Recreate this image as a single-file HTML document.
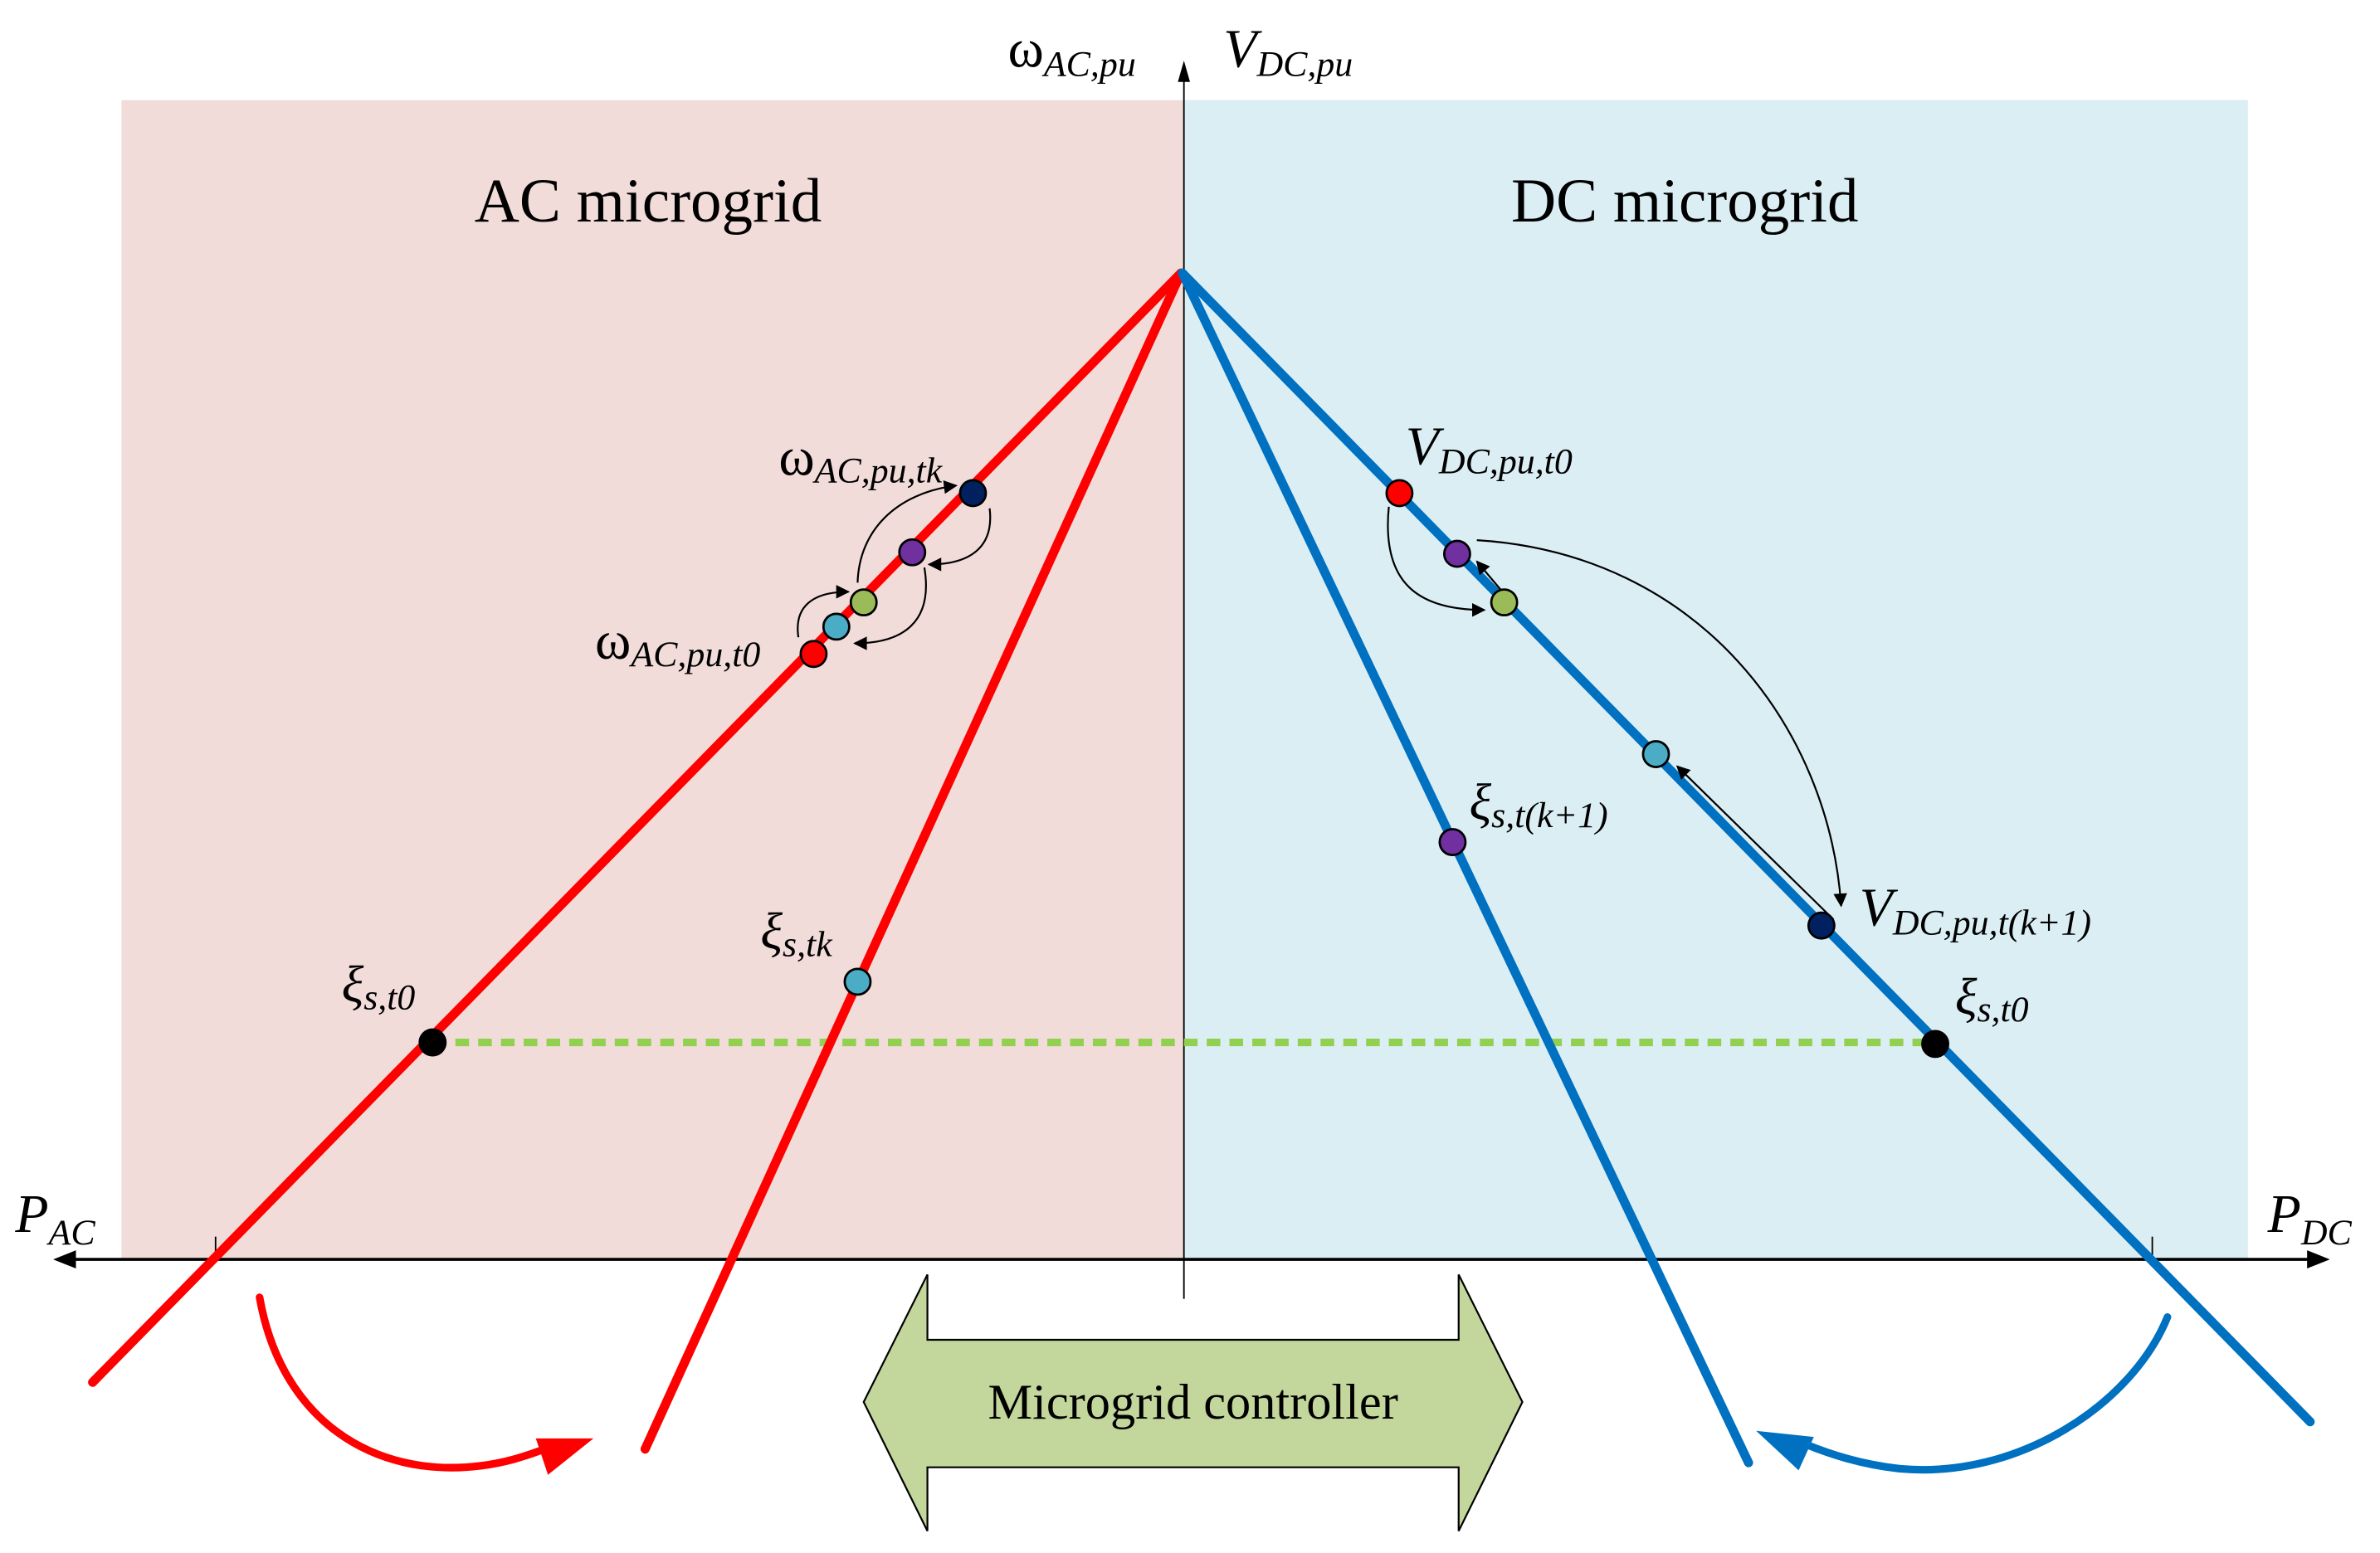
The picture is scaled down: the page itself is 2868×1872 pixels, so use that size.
<!DOCTYPE html>
<html><head><meta charset="utf-8"><style>
html,body{margin:0;padding:0;background:#fff}
svg{display:block}
text{font-family:"Liberation Serif",serif;fill:#000}
.i{font-style:italic}
</style></head><body>
<svg width="2868" height="1872" viewBox="0 0 1568 1023.5" xmlns="http://www.w3.org/2000/svg">
<defs>
<marker id="ah" viewBox="0 0 10 10" refX="9" refY="5" markerWidth="10" markerHeight="9" orient="auto" markerUnits="userSpaceOnUse">
<path d="M0,0 L10,5 L0,10 z" fill="#000"/></marker>
</defs>
<rect x="80" y="66" width="700" height="764" fill="#f1dcd9"/>
<rect x="780" y="66" width="701" height="764" fill="#dbeef4"/>
<line x1="780" y1="52" x2="780" y2="856" stroke="#000" stroke-width="1"/>
<path d="M780,40 L776,54 L784,54 z" fill="#000"/>
<line x1="46" y1="830" x2="1524" y2="830" stroke="#000" stroke-width="2"/>
<path d="M35,830 L50,824 L50,836 z" fill="#000"/>
<path d="M1535,830 L1520,824 L1520,836 z" fill="#000"/>
<line x1="142" y1="815" x2="142" y2="830" stroke="#000" stroke-width="1"/>
<line x1="1418" y1="815" x2="1418" y2="830" stroke="#000" stroke-width="1"/>
<line x1="285" y1="687" x2="1275" y2="687" stroke="#92d050" stroke-width="5" stroke-dasharray="9,6"/>
<g stroke-width="6" stroke-linecap="round">
<line x1="778" y1="180" x2="61" y2="911" stroke="#ff0000"/>
<line x1="778" y1="180" x2="425" y2="955" stroke="#ff0000"/>
<line x1="779" y1="180" x2="1522" y2="937" stroke="#0070c0"/>
<line x1="779" y1="180" x2="1152" y2="964" stroke="#0070c0"/>
</g>
<path d="M171,855 C185,935 245,975 317,966 C333,964 345,960 356,956" fill="none" stroke="#ff0000" stroke-width="5" stroke-linecap="round"/>
<path d="M353,948 L391,948 L361,972 z" fill="#ff0000"/>
<path d="M1428,868 C1405,925 1330,975 1252,968 C1225,965 1205,958 1190,952" fill="none" stroke="#0070c0" stroke-width="5" stroke-linecap="round"/>
<path d="M1157,943 L1195,947 L1185,969 z" fill="#0070c0"/>
<path d="M569,924 L611,840 L611,883 L961,883 L961,840 L1003,924 L961,1009 L961,967 L611,967 L611,1009 z" fill="#c3d69b" stroke="#000" stroke-width="1.2"/>
<text x="786" y="935" font-size="33" text-anchor="middle">Microgrid controller</text>
<g fill="none" stroke="#000" stroke-width="1.2">
<path d="M526,420 C523,400 535,390 559,390" marker-end="url(#ah)"/>
<path d="M565,384 C566,350 590,325 630,320" marker-end="url(#ah)"/>
<path d="M652,335 C655,360 640,372 612,372" marker-end="url(#ah)"/>
<path d="M609,374 C615,410 595,424 563,424" marker-end="url(#ah)"/>
<path d="M915,334 C910,385 935,402 978,402" marker-end="url(#ah)"/>
<path d="M989,389 L973,370" marker-end="url(#ah)"/>
<path d="M973,356 C1120,365 1205,480 1213,597" marker-end="url(#ah)"/>
<path d="M1208,606 L1105,505" marker-end="url(#ah)"/>
</g>
<g stroke="#000" stroke-width="1.5">
<circle cx="285" cy="687" r="8.5" fill="#000"/>
<circle cx="1275" cy="688" r="8.5" fill="#000"/>
<circle cx="536" cy="431" r="8.5" fill="#ff0000"/>
<circle cx="551" cy="413" r="8.5" fill="#4bacc6"/>
<circle cx="569" cy="397" r="8.5" fill="#9bbb59"/>
<circle cx="601" cy="364" r="8.5" fill="#7030a0"/>
<circle cx="641" cy="325" r="8.5" fill="#002060"/>
<circle cx="565" cy="647" r="8.5" fill="#4bacc6"/>
<circle cx="922" cy="325" r="8.5" fill="#ff0000"/>
<circle cx="960" cy="365" r="8.5" fill="#7030a0"/>
<circle cx="991" cy="397" r="8.5" fill="#9bbb59"/>
<circle cx="1091" cy="497" r="8.5" fill="#4bacc6"/>
<circle cx="1200" cy="610" r="8.5" fill="#002060"/>
<circle cx="957" cy="555" r="8.5" fill="#7030a0"/>
</g>
<text x="427" y="146" font-size="41" text-anchor="middle">AC microgrid</text>
<text x="1110" y="146" font-size="41" text-anchor="middle">DC microgrid</text>
<text x="664" y="44" font-size="36">ω<tspan class="i" font-size="24" dy="6">AC,pu</tspan></text>
<text x="806" y="44" font-size="36" class="i">V<tspan font-size="24" dy="6">DC,pu</tspan></text>
<text x="10" y="812" font-size="36" class="i">P<tspan font-size="24" dy="8">AC</tspan></text>
<text x="1494" y="812" font-size="36" class="i">P<tspan font-size="24" dy="8">DC</tspan></text>
<text x="513" y="313" font-size="36">ω<tspan class="i" font-size="24" dy="5">AC,pu,tk</tspan></text>
<text x="392" y="434" font-size="36">ω<tspan class="i" font-size="24" dy="5">AC,pu,t0</tspan></text>
<text x="225" y="660" font-size="34" class="i">ξ<tspan font-size="24" dy="5">s,t0</tspan></text>
<text x="501" y="625" font-size="34" class="i">ξ<tspan font-size="24" dy="5">s,tk</tspan></text>
<text x="926" y="306" font-size="36" class="i">V<tspan font-size="24" dy="6">DC,pu,t0</tspan></text>
<text x="968" y="540" font-size="34" class="i">ξ<tspan font-size="24" dy="5">s,t(k+1)</tspan></text>
<text x="1225" y="610" font-size="36" class="i">V<tspan font-size="24" dy="6">DC,pu,t(k+1)</tspan></text>
<text x="1288" y="668" font-size="34" class="i">ξ<tspan font-size="24" dy="5">s,t0</tspan></text>
</svg>
</body></html>
